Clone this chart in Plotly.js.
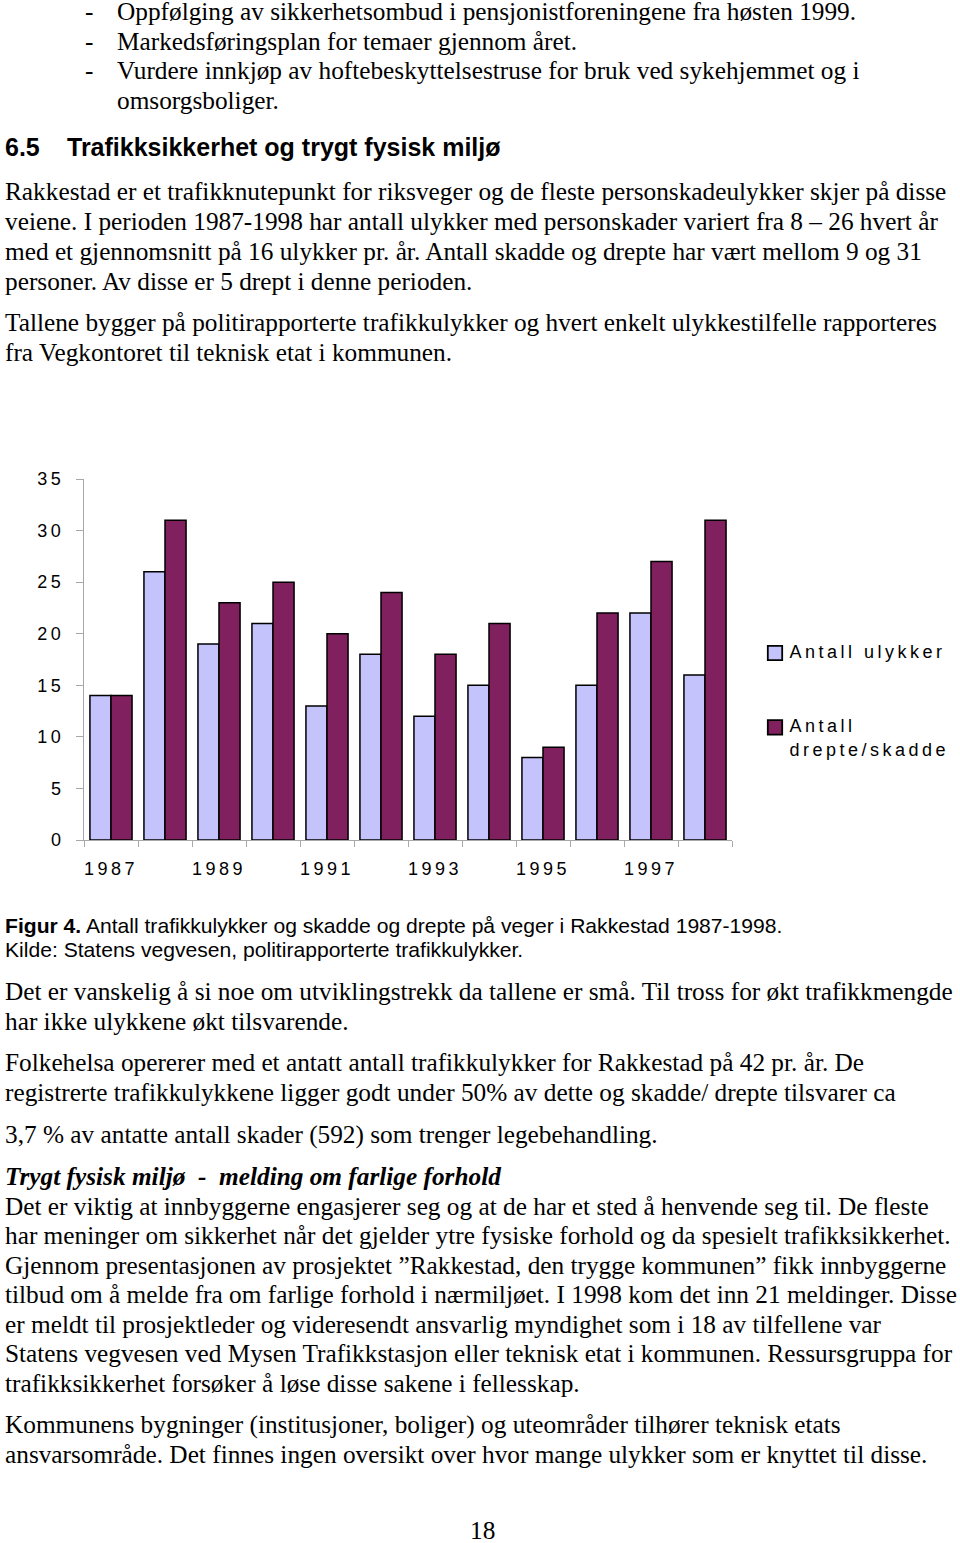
<!DOCTYPE html>
<html>
<head>
<meta charset="utf-8">
<script src="https://cdn.plot.ly/plotly-3.0.1.min.js"></script>
<style>
body{margin:0;background:#fff;}
#page{position:relative;width:960px;height:1543px;overflow:hidden;font-family:"Liberation Serif","Times New Roman",serif;font-size:25.3px;color:#000;}
.l{position:absolute;left:5px;white-space:nowrap;line-height:30px;}
.in{left:117px;}
.dash{left:85px;}
.tight{line-height:22px;}
.h{font-family:"Liberation Sans",Arial,sans-serif;font-weight:bold;font-size:25px;}
.cap{font-family:"Liberation Sans",Arial,sans-serif;font-size:21.1px;line-height:24px;}
#myDiv{position:absolute;left:0;top:440px;width:1000px;height:460px;}
.xtick text,.ytick text,.legendtext{letter-spacing:3.5px;}
.legendpoints path{transform:translate(25.5px,2px) scale(1.2);}
</style>
</head>
<body>
<div id="page">
<div class="l dash tight" style="top:0px">-</div><div class="l in tight" style="top:0px">Oppfølging av sikkerhetsombud i pensjonistforeningene fra høsten 1999.</div>
<div class="l dash" style="top:26px">-</div><div class="l in" style="top:26px">Markedsføringsplan for temaer gjennom året.</div>
<div class="l dash" style="top:55px">-</div><div class="l in" style="top:55px">Vurdere innkjøp av hoftebeskyttelsestruse for bruk ved sykehjemmet og i</div>
<div class="l in" style="top:85px">omsorgsboliger.</div>

<div class="l h" style="top:132px">6.5</div><div class="l h" style="top:132px;left:67px">Trafikksikkerhet og trygt fysisk miljø</div>

<div class="l" style="top:176px">Rakkestad er et trafikknutepunkt for riksveger og de fleste personskadeulykker skjer på disse</div>
<div class="l" style="top:206px">veiene. I perioden 1987-1998 har antall ulykker med personskader variert fra 8 – 26 hvert år</div>
<div class="l" style="top:236px">med et gjennomsnitt på 16 ulykker pr. år. Antall skadde og drepte har vært mellom 9 og 31</div>
<div class="l" style="top:266px">personer. Av disse er 5 drept i denne perioden.</div>
<div class="l" style="top:307px">Tallene bygger på politirapporterte trafikkulykker og hvert enkelt ulykkestilfelle rapporteres</div>
<div class="l" style="top:337px">fra Vegkontoret til teknisk etat i kommunen.</div>

<div id="myDiv"></div>

<div class="l cap" style="top:914px"><b>Figur 4.</b> Antall trafikkulykker og skadde og drepte på veger i Rakkestad 1987-1998.</div>
<div class="l cap" style="top:938px">Kilde: Statens vegvesen, politirapporterte trafikkulykker.</div>

<div class="l" style="top:976px">Det er vanskelig å si noe om utviklingstrekk da tallene er små. Til tross for økt trafikkmengde</div>
<div class="l" style="top:1006px">har ikke ulykkene økt tilsvarende.</div>
<div class="l" style="top:1047px">Folkehelsa opererer med et antatt antall trafikkulykker for Rakkestad på 42 pr. år. De</div>
<div class="l" style="top:1077px">registrerte trafikkulykkene ligger godt under 50% av dette og skadde/ drepte tilsvarer ca</div>
<div class="l" style="top:1119px">3,7 % av antatte antall skader (592) som trenger legebehandling.</div>
<div class="l" style="top:1161px"><b><i>Trygt fysisk miljø&nbsp; -&nbsp; melding om farlige forhold</i></b></div>
<div class="l" style="top:1191px">Det er viktig at innbyggerne engasjerer seg og at de har et sted å henvende seg til. De fleste</div>
<div class="l" style="top:1220px">har meninger om sikkerhet når det gjelder ytre fysiske forhold og da spesielt trafikksikkerhet.</div>
<div class="l" style="top:1250px">Gjennom presentasjonen av prosjektet ”Rakkestad, den trygge kommunen” fikk innbyggerne</div>
<div class="l" style="top:1279px">tilbud om å melde fra om farlige forhold i nærmiljøet. I 1998 kom det inn 21 meldinger. Disse</div>
<div class="l" style="top:1309px">er meldt til prosjektleder og videresendt ansvarlig myndighet som i 18 av tilfellene var</div>
<div class="l" style="top:1338px">Statens vegvesen ved Mysen Trafikkstasjon eller teknisk etat i kommunen. Ressursgruppa for</div>
<div class="l" style="top:1368px">trafikksikkerhet forsøker å løse disse sakene i fellesskap.</div>
<div class="l" style="top:1409px">Kommunens bygninger (institusjoner, boliger) og uteområder tilhører teknisk etats</div>
<div class="l" style="top:1439px">ansvarsområde. Det finnes ingen oversikt over hvor mange ulykker som er knyttet til disse.</div>
<div class="l tight" style="top:1519px;left:470px">18</div>
</div>

<script>
// data
var years = ['1987','1988','1989','1990','1991','1992','1993','1994','1995','1996','1997','1998'];
var ulykker = [14, 26, 19, 21, 13, 18, 12, 15, 8, 15, 22, 16];
var drepteSkadde = [14, 31, 23, 25, 20, 24, 18, 21, 9, 22, 27, 31];
var name1 = 'Antall ulykker';
var name2 = 'Antall<br>drepte/skadde';
var yTicks = [0, 5, 10, 15, 20, 25, 30, 35];

// only every second year gets a label
var xLabels = [];
for (var i = 0; i < years.length; i++) {
  xLabels.push(i % 2 == 0 ? years[i] : '');
}

var trace1 = {
  x: years,
  y: ulykker,
  name: name1,
  legendgroup: 'a',
  type: 'bar',
  marker: {color: '#c4c3fb', line: {color: '#000', width: 1.5}},
  hoverinfo: 'x+y'
};

var trace2 = {
  x: years,
  y: drepteSkadde,
  name: name2,
  legendgroup: 'b',
  type: 'bar',
  marker: {color: '#80205e', line: {color: '#000', width: 1.5}},
  hoverinfo: 'x+y'
};

var data = [trace1, trace2];

var axisFont = {family: 'Liberation Sans, Arial, sans-serif', size: 18, color: '#000'};

// div is wider than the page so the legend never pushes the plot area
var layout = {
  width: 1000,
  height: 460,
  margin: {l: 84, r: 268, t: 39, b: 60},
  paper_bgcolor: '#fff',
  plot_bgcolor: '#fff',
  barmode: 'group',
  bargap: 0.22,
  bargroupgap: 0,
  showlegend: true,
  font: axisFont,
  xaxis: {
    type: 'category',
    tickmode: 'array',
    tickvals: years,
    ticktext: xLabels,
    tickson: 'boundaries',
    ticks: 'outside',
    ticklen: 6,
    tickcolor: '#a8a8a8',
    showline: true,
    linecolor: '#a8a8a8',
    linewidth: 1,
    showgrid: false,
    zeroline: false,
    tickfont: axisFont,
    ticklabelstandoff: 12
  },
  yaxis: {
    range: [0, 35],
    tickmode: 'array',
    tickvals: yTicks,
    ticks: 'outside',
    ticklen: 7,
    tickcolor: '#a8a8a8',
    showline: true,
    linecolor: '#a8a8a8',
    linewidth: 1,
    showgrid: false,
    zeroline: false,
    tickfont: axisFont,
    ticklabelstandoff: 8
  },
  legend: {
    x: 1.027,
    xanchor: 'left',
    y: 0.574,
    yanchor: 'top',
    traceorder: 'grouped',
    tracegroupgap: 48,
    valign: 'top',
    bgcolor: 'rgba(0,0,0,0)',
    borderwidth: 0,
    font: axisFont
  }
};

Plotly.newPlot('myDiv', data, layout, {displayModeBar: false, staticPlot: true});
</script>
</body>
</html>
